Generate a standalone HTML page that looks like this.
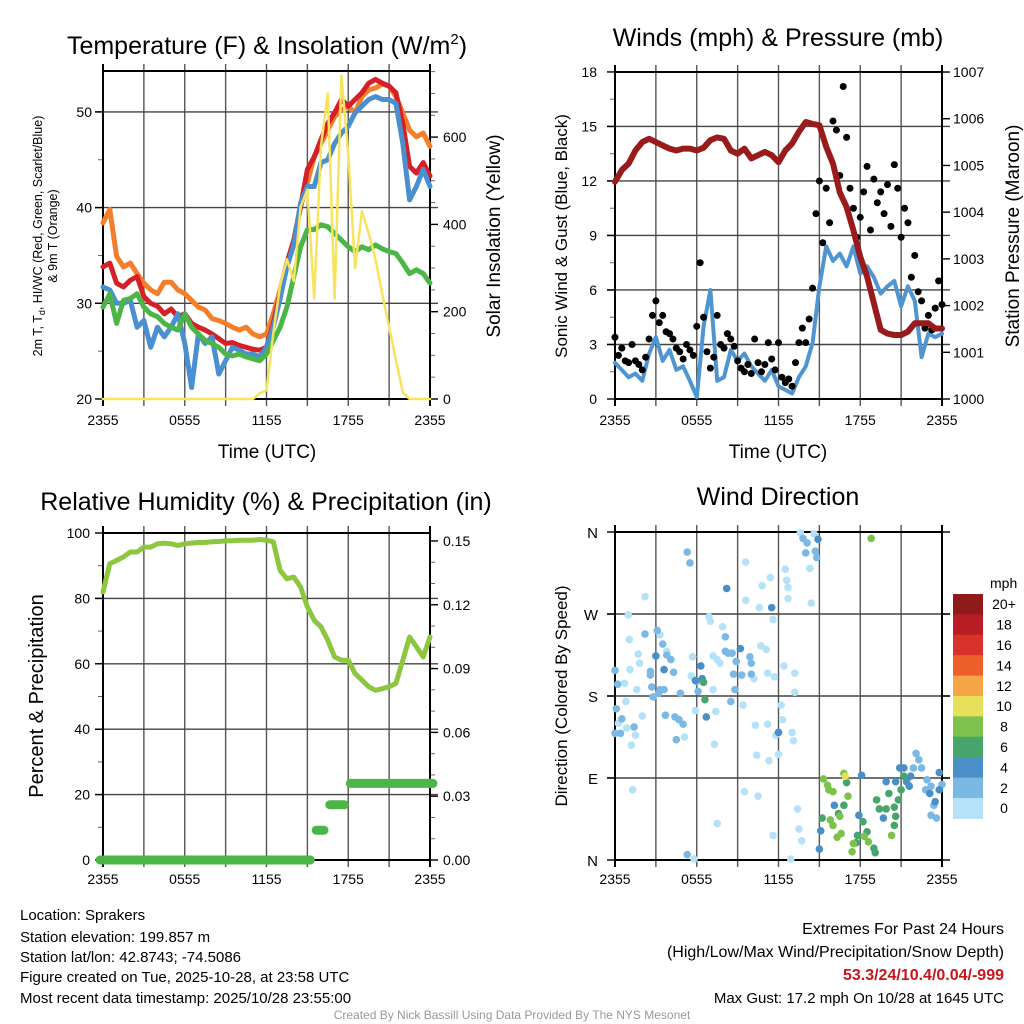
<!DOCTYPE html>
<html><head><meta charset="utf-8"><style>
html,body{margin:0;padding:0;background:#fff;}
svg{display:block;font-family:"Liberation Sans",sans-serif;}
</style></head><body>
<svg id="chart" width="1024" height="1024" viewBox="0 0 1024 1024" xmlns="http://www.w3.org/2000/svg">
<g id="static">
<text x="267" y="54" font-size="25" text-anchor="middle">Temperature (F) &amp; Insolation (W/m<tspan font-size="15" dy="-10">2</tspan><tspan dy="10">)</tspan></text>
<text x="778" y="46" font-size="25" text-anchor="middle">Winds (mph) &amp; Pressure (mb)</text>
<text x="266" y="510" font-size="25" text-anchor="middle">Relative Humidity (%) &amp; Precipitation (in)</text>
<text x="778" y="505" font-size="25" text-anchor="middle">Wind Direction</text>
<text x="267" y="458" font-size="19" text-anchor="middle">Time (UTC)</text>
<text x="778" y="458" font-size="19" text-anchor="middle">Time (UTC)</text>
<text transform="translate(42,236) rotate(-90)" font-size="12.5" text-anchor="middle">2m T, T<tspan font-size="9" dy="3">d</tspan><tspan dy="-3">, HI/WC (Red, Green, Scarlet/Blue)</tspan></text>
<text transform="translate(57,236) rotate(-90)" font-size="12.5" text-anchor="middle">&amp; 9m T (Orange)</text>
<text transform="translate(500,236) rotate(-90)" font-size="19" text-anchor="middle">Solar Insolation (Yellow)</text>
<text transform="translate(567,236) rotate(-90)" font-size="17" text-anchor="middle">Sonic Wind &amp; Gust (Blue, Black)</text>
<text transform="translate(1019,236) rotate(-90)" font-size="19" text-anchor="middle">Station Pressure (Maroon)</text>
<text transform="translate(43,696) rotate(-90)" font-size="20" text-anchor="middle">Percent &amp; Precipitation</text>
<text transform="translate(567,696) rotate(-90)" font-size="17" text-anchor="middle">Direction (Colored By Speed)</text>
<g font-size="15">
<text x="20" y="920">Location: Sprakers</text>
<text x="20" y="942">Station elevation: 199.857 m</text>
<text x="20" y="962">Station lat/lon: 42.8743; -74.5086</text>
<text x="20" y="982">Figure created on Tue, 2025-10-28, at 23:58 UTC</text>
<text x="20" y="1003">Most recent data timestamp: 2025/10/28 23:55:00</text>
</g>
<g font-size="15" text-anchor="end">
<text x="1004" y="934" font-size="16">Extremes For Past 24 Hours</text>
<text x="1004" y="957" font-size="16">(High/Low/Max Wind/Precipitation/Snow Depth)</text>
<text x="1004" y="980" font-size="16" font-weight="bold" fill="#c8161d">53.3/24/10.4/0.04/-999</text>
<text x="1004" y="1003">Max Gust: 17.2 mph On 10/28 at 1645 UTC</text>
</g>
<text x="512" y="1019" font-size="12" fill="#999" text-anchor="middle">Created By Nick Bassill Using Data Provided By The NYS Mesonet</text>
</g>
</svg>
<script>
// ---- Temperature panel data (half-hourly, 49 samples 2355 -> 2355)
const timeLabels = ["2355","0555","1155","1755","2355"];
const tempTicks = [20,30,40,50];
const solarTicks = [0,200,400,600];
const temp9m = [38.4,39.8,34.9,33.8,34.2,33.1,32.1,31.4,31.0,32.2,32.2,31.4,31.0,30.3,29.6,29.3,28.4,28.2,27.9,27.5,27.2,27.5,26.8,26.5,26.8,28.9,31.4,34.2,36.6,40.1,42.6,45.3,46.7,48.1,49.5,50.2,50.6,49.9,51.6,52.3,52.5,52.9,52.7,51.6,49.9,48.1,47.4,47.8,46.4];
const temp2m = [33.8,34.2,32.1,31.7,32.4,32.8,30.7,30.0,29.7,28.9,29.4,28.6,28.9,27.9,27.5,27.2,26.8,26.3,25.8,25.9,25.6,25.4,25.2,25.1,25.4,27.9,31.0,34.2,36.6,40.1,44.0,45.3,47.1,48.8,49.9,51.3,50.6,51.3,52.0,53.0,53.4,53.0,52.7,52.0,48.8,44.3,43.6,44.7,43.3];
const windChill = [31.7,31.4,30.0,30.0,30.3,27.5,28.2,25.4,27.5,26.5,27.5,28.9,25.8,21.2,26.8,25.8,26.5,22.6,24.0,25.4,25.1,24.7,24.7,24.4,25.4,27.5,30.5,33.8,36.1,40.5,42.2,42.2,44.7,45.0,46.7,47.8,48.5,49.9,50.6,51.3,51.6,51.3,51.3,50.9,46.7,40.8,42.2,44.0,42.2];
const dewPoint = [29.6,31.0,27.9,30.3,30.5,31.0,29.6,28.9,28.6,27.9,27.5,27.2,28.9,27.5,26.8,26.1,25.8,25.4,24.7,24.5,24.7,24.4,24.2,24.0,24.7,26.1,27.5,29.6,32.8,35.9,37.7,37.7,38.2,38.0,37.3,36.6,35.9,35.4,35.9,35.6,36.1,35.7,35.4,35.2,34.2,33.1,33.5,33.1,32.1];
const solar = [0,0,0,0,0,0,0,0,0,0,0,0,0,0,0,0,0,0,0,0,0,0,0,13,20,150,260,320,270,440,480,230,580,700,230,740,560,300,430,380,320,240,165,90,15,0,0,0,0];
// ---- Winds panel data
const speedTicks = [0,3,6,9,12,15,18];
const pressTicks = [1000,1001,1002,1003,1004,1005,1006,1007];
const windSpeed = [2.0,1.6,1.2,1.4,1.0,2.5,3.4,2.1,2.7,1.6,1.8,1.0,0.1,4.0,6.0,1.0,1.2,2.7,2.1,2.5,1.8,1.4,1.0,1.6,0.7,0.5,0.3,1.2,1.8,3.1,6.2,8.4,7.6,8.0,7.3,8.4,6.9,7.3,6.7,5.8,6.2,6.5,5.1,6.2,5.4,2.3,3.6,3.4,3.6];
const pressure = [1004.65,1004.90,1005.04,1005.32,1005.50,1005.57,1005.50,1005.43,1005.36,1005.32,1005.36,1005.36,1005.32,1005.38,1005.54,1005.60,1005.57,1005.32,1005.25,1005.36,1005.15,1005.22,1005.29,1005.22,1005.07,1005.32,1005.47,1005.72,1005.93,1005.89,1005.86,1005.40,1005.04,1004.42,1004.11,1003.61,1003.04,1002.62,1002.05,1001.48,1001.40,1001.37,1001.37,1001.44,1001.62,1001.62,1001.62,1001.51,1001.51];
// gusts, 15-minute samples (97)
const gusts = [3.4,2.4,2.8,2.1,2.0,3.0,2.1,1.9,1.6,2.3,3.3,4.6,5.4,4.2,4.6,3.7,3.6,3.3,2.8,2.6,2.2,3.0,2.7,2.4,4.0,7.5,4.5,2.6,1.7,2.3,4.6,3.0,2.8,3.6,3.3,2.9,2.1,1.7,1.5,1.9,1.4,3.3,2.0,1.5,1.9,3.1,2.2,1.6,3.1,1.2,0.9,1.1,0.7,2.0,3.1,3.9,3.1,4.4,6.1,10.2,12.0,8.6,11.6,9.7,15.3,14.8,12.3,17.2,14.4,11.6,10.5,8.9,10.0,11.4,12.8,9.3,12.1,10.8,11.4,10.2,11.8,9.5,12.9,11.6,8.9,10.5,9.7,6.7,7.9,5.9,5.4,3.9,4.6,3.8,5.0,6.5,5.2];
// ---- RH / precip data
const rhTicks = [0,20,40,60,80,100];
const precipTicks = ["0.00","0.03","0.06","0.09","0.12","0.15"];
const rh = [82,90.6,91.6,92.7,94.2,94.2,95.7,95.7,96.7,96.9,96.7,96.2,96.7,96.9,97.1,97.1,97.3,97.4,97.6,97.6,97.8,97.8,97.8,98.0,97.8,97.3,88.6,86.0,86.5,83.5,77.4,73.3,71.3,67.2,62.1,61.1,61.1,57.0,55.0,53.0,51.9,52.4,53.0,54.0,61.1,68.2,65.2,62.1,68.2];
const precip = [0,0,0,0,0,0,0,0,0,0,0,0,0,0,0,0,0,0,0,0,0,0,0,0,0,0,0,0,0,0,0,0.014,0.014,0.026,0.026,0.026,0.036,0.036,0.036,0.036,0.036,0.036,0.036,0.036,0.036,0.036,0.036,0.036,0.036];
// ---- Wind direction data: hours since 2355, direction (deg), speed (mph)
const dirLabels = ["N","E","S","W","N"];
const dirHours = [0.98,2.2,1.05,1.7,1.8,1.1,0.7,1.6,0.8,0.25,0.85,1.5,1.2,2.0,3.3,3.8,5.7,5.6,5.9,5.1,7.2,7.4,7.3,1.3,6.9,7.0,7.9,7.5,7.7,7.2,9.6,9.6,10.8,11.4,10.6,11.6,10.7,11.1,11.2,11.7,9.4,10.2,10.3,11.2,10.4,11.3,12.0,11.8,12.4,13.2,13.2,12.2,12.3,13.0,13.1,12.5,12.6,12.7,12.7,14.4,14.3,13.6,14.6,7.5,9.5,10.5,13.4,13.5,13.7,11.6,12.9,5.8,
5.3,5.5,2.2,3.1,3.5,3.8,4.1,4.3,2.6,2.6,2.7,2.8,3.3,3.6,3.2,4.8,6.0,6.1,8.1,8.1,8.3,8.6,8.9,8.7,8.8,8.5,9.9,10.0,10.0,9.3,0.0,0.1,0.2,0.0,0.4,0.5,1.4,3.7,4.4,4.7,5.0,4.5,12.0,13.8,14.1,14.0,14.7,14.8,5.3,22.1,22.3,21.9,22.5,23.2,22.8,23.4,23.2,23.6,24.0,22.9,
8.2,3.0,3.6,6.3,6.4,5.9,6.7,9.2,11.5,12.0,14.9,16.1,15.1,15.0,17.9,18.1,19.9,19.7,20.9,21.2,21.6,21.7,23.1,23.8,23.8,23.5,20.6,21.4,
6.5,6.6,15.2,17.0,16.8,16.4,18.2,19.2,19.4,19.9,20.1,20.5,20.6,20.5,20.8,21.0,21.2,19.0,19.1,18.5,17.8,17.7,
15.3,15.6,15.7,16.0,16.5,15.8,16.0,16.3,16.6,17.1,17.4,17.5,18.3,18.6,20.3,18.8,16.8,16.9];
const dirDegrees = [269,289,242,226,216,209,194,187,174,150,145,137,126,158,247,229,223,202,164,135,187,163,127,77,267,262,256,220,216,224,327,285,301,310,277,264,235,231,205,201,170,199,148,149,115,109,116,137,213,205,184,170,154,140,131,319,307,299,287,282,320,359,358,40,75,70,56,34,21,27,1,1,
338,326,248,252,237,225,220,206,207,203,190,179,187,187,183,183,196,185,245,229,227,227,218,204,187,174,223,216,204,203,208,166,193,139,139,155,146,159,157,154,149,132,140,353,348,337,339,332,6,117,110,101,101,81,77,60,49,46,83,88,
298,224,209,213,199,197,157,232,277,140,352,60,32,12,49,93,86,46,101,101,81,92,73,96,77,64,86,86,
195,176,46,85,60,51,42,66,56,56,73,58,48,38,66,77,92,13,8,31,27,19,
89,82,77,75,48,44,38,25,29,70,9,18,26,20,27,353,95,92];
const dirSpeeds = [1,1,1,1,1,1,1,1,1,1,1,1,1,1,1,1,1,1,1,1,1,1,1,1,1,1,1,1,1,1,1,1,1,1,1,1,1,1,1,1,1,1,1,1,1,1,1,1,1,1,1,1,1,1,1,1,1,1,1,1,1,1,1,1,1,1,1,1,1,1,1,1,
3,3,3,3,3,3,3,3,3,3,3,3,3,3,3,3,3,3,3,3,3,3,3,3,3,3,3,3,3,3,3,3,3,3,3,3,3,3,3,3,3,3,3,3,3,3,3,3,3,3,3,3,3,3,3,3,3,3,3,3,
5,5,5,5,5,5,5,5,5,5,5,5,5,5,5,5,5,5,5,5,5,5,5,5,5,5,5,5,
7,7,7,7,7,7,7,7,7,7,7,7,7,7,7,7,7,7,7,7,7,7,
9,9,9,9,9,9,9,9,9,9,9,9,9,9,9,9,9,11];
const cbLabels = ["20+","18","16","14","12","10","8","6","4","2","0"];
const cbColors = ["#8f1a1c","#b81d24","#d9322b","#ee5f2b","#f6a647","#e7e05a","#7cc24c","#47a56c","#4a8fc6","#7bb9e4","#b5e2f8"];

const svg = document.getElementById('chart');
const NS = 'http://www.w3.org/2000/svg';
function mk(tag, attrs, parent){const e=document.createElementNS(NS,tag);for(const k in attrs)e.setAttribute(k,attrs[k]);(parent||svg).appendChild(e);return e;}

function speedColor(s){let k=Math.min(10,Math.floor(s/2));return cbColors[10-k];}

function frame(name,x0,x1,y0,y1,hLines,leftTicks,rightTicks,minorLeft,minorRight){
  const g=mk('g',{});
  
  
  for(let k=0;k<=8;k++){const x=x0+(x1-x0)*k/8;
    const l=mk('line',{x1:x,x2:x,y1:y0-7,y2:y1+7,stroke:k%8===0?'#000':'#555','stroke-width':k%8===0?2:1.4},g);
    
    }
  hLines.forEach(y=>{const l=mk('line',{x1:x0-8,x2:x1+8,y1:y,y2:y,stroke:'#444','stroke-width':1.4},g);
    
    });
  leftTicks.forEach(y=>mk('line',{x1:x0-8,x2:x0,y1:y,y2:y,stroke:'#000','stroke-width':1.4},g));
  rightTicks.forEach(y=>mk('line',{x1:x1,x2:x1+8,y1:y,y2:y,stroke:'#000','stroke-width':1.4},g));
  minorLeft.forEach(y=>mk('line',{x1:x0-5,x2:x0,y1:y,y2:y,stroke:'#666','stroke-width':1},g));
  minorRight.forEach(y=>mk('line',{x1:x1,x2:x1+5,y1:y,y2:y,stroke:'#666','stroke-width':1},g));
  mk('line',{x1:x0,x2:x0,y1:y0,y2:y1,stroke:'#000','stroke-width':2},g);
  mk('line',{x1:x1,x2:x1,y1:y0,y2:y1,stroke:'#000','stroke-width':2},g);
  mk('line',{x1:x0,x2:x1,y1:y0,y2:y0,stroke:'#000','stroke-width':2},g);
  mk('line',{x1:x0,x2:x1,y1:y1,y2:y1,stroke:'#000','stroke-width':2},g);
  return g;
}
function label(txt,x,y,anchor,size,name){const t=mk('text',{x:x,y:y,'text-anchor':anchor,'font-size':size});t.textContent=txt;
  
  return t;}
function xLabels(x0,x1,y,name){timeLabels.forEach((s,k)=>label(s,x0+(x1-x0)*k/4,y,'middle',14,name+'-x-tick-label'));}
function line(vals,xf,yf,color,w,name){
  const d=vals.map((v,i)=>(i?'L':'M')+xf(i).toFixed(1)+' '+yf(v).toFixed(1)).join('');
  const p=mk('path',{d:d,fill:'none',stroke:color,'stroke-width':w,'stroke-linejoin':'round','stroke-linecap':'round'});
  
  
  return p;}

// ---------- Temperature panel
(function(){
  const x0=103,x1=430,top=71,bot=399;
  const xT=i=>x0+(x1-x0)*i/(temp2m.length-1);
  const yT=v=>bot-(v-20)*9.57;
  const yS=v=>bot-v*0.4365;
  frame('temperature',x0,x1,top,bot,[yT(30),yT(40),yT(50)],tempTicks.map(yT),solarTicks.map(yS),[25,35,45].map(yT),[50,100,150,250,300,350,450,500,550,650,700,750].map(yS));
  tempTicks.forEach(v=>label(String(v),92,yT(v)+5,'end',14,'temp-y-tick-label'));
  solarTicks.forEach(v=>label(String(v),443,yS(v)+5,'start',14,'solar-y-tick-label'));
  xLabels(x0,x1,425,'temp');
  line(temp9m,xT,yT,'#f47f2b',5,'temp-9m-line');
  line(temp2m,xT,yT,'#d62028',5,'temp-2m-line');
  line(windChill,xT,yT,'#4a8fcf',5,'wind-chill-line');
  line(dewPoint,xT,yT,'#4cb547',5,'dewpoint-line');
  line(solar,xT,yS,'#f8e45c',2.5,'solar-line');
})();

// ---------- Winds panel
(function(){
  const x0=615,x1=942,top=72,bot=399;
  const xT=i=>x0+(x1-x0)*i/(windSpeed.length-1);
  const xG=i=>x0+(x1-x0)*i/(gusts.length-1);
  const yW=v=>bot-v*18.17;
  const yP=v=>bot-(v-1000)*46.71;
  frame('winds',x0,x1,top,bot,[3,6,9,12,15].map(yW),speedTicks.map(yW),pressTicks.map(yP),[1.5,4.5,7.5,10.5,13.5,16.5].map(yW),[]);
  speedTicks.forEach(v=>label(String(v),597,yW(v)+5,'end',14,'speed-y-tick-label'));
  pressTicks.forEach(v=>label(String(v),953,yP(v)+5,'start',14,'pressure-y-tick-label'));
  xLabels(x0,x1,425,'winds');
  line(windSpeed,xT,yW,'#4e95d2',4,'wind-speed-line');
  gusts.forEach((v,i)=>{const c=mk('circle',{cx:xG(i),cy:yW(v),r:3.5,fill:'#000'});
    
    });
  line(pressure,xT,yP,'#9a1b1b',6,'pressure-line');
})();

// ---------- RH panel
(function(){
  const x0=103,x1=430,top=533,bot=860;
  const xT=i=>x0+(x1-x0)*i/(rh.length-1);
  const yR=v=>bot-v*3.27;
  const yPr=v=>bot-v*2127;
  frame('humidity',x0,x1,top,bot,[20,40,60,80].map(yR),rhTicks.map(yR),precipTicks.map(s=>yPr(+s)),[10,30,50,70,90].map(yR),[0.01,0.02,0.04,0.05,0.07,0.08,0.10,0.11,0.13,0.14].map(yPr));
  rhTicks.forEach(v=>label(String(v),90,yR(v)+5,'end',14,'rh-y-tick-label'));
  precipTicks.forEach(s=>label(s,443,yPr(+s)+5,'start',14,'precip-y-tick-label'));
  xLabels(x0,x1,884,'humidity');
  line(rh,xT,yR,'#8dc63f',5,'rh-line');
  let start=0;
  for(let i=1;i<=precip.length;i++){
    if(i===precip.length||precip[i]!==precip[start]){
      const s=mk('line',{x1:xT(start)-(start===0?3:-2),x2:xT(i-1)+3,y1:yPr(precip[start]),y2:yPr(precip[start]),stroke:'#4cb547','stroke-width':9,'stroke-linecap':'round'});
      
      
      start=i;}
  }
})();

// ---------- Wind direction panel
(function(){
  const x0=615,x1=942,top=532,bot=860;
  const xH=h=>x0+(x1-x0)*h/24;
  const yD=d=>bot-(bot-top)*d/360;
  frame('direction',x0,x1,top,bot,[90,180,270].map(yD),[0,90,180,270,360].map(yD),[0,90,180,270,360].map(yD),[],[]);
  dirLabels.forEach((s,k)=>label(s,598,yD(k*90)+6,'end',15,'direction-y-tick-label'));
  xLabels(x0,x1,884,'direction');
  dirHours.forEach((h,i)=>{const c=mk('circle',{cx:xH(h),cy:yD(dirDegrees[i]),r:3.8,fill:speedColor(dirSpeeds[i])});
    
    });
  const cbTop=594,cbH=20.4;
  label('mph',990,588,'start',14,'colorbar-title');
  cbColors.forEach((c,k)=>{const r=mk('rect',{x:953,y:cbTop+k*cbH,width:30,height:cbH+0.5,fill:c});
    
    
    label(cbLabels[k],1004,cbTop+k*cbH+cbH/2+5,'middle',14,'colorbar-label');});
})();
</script>
</body></html>
